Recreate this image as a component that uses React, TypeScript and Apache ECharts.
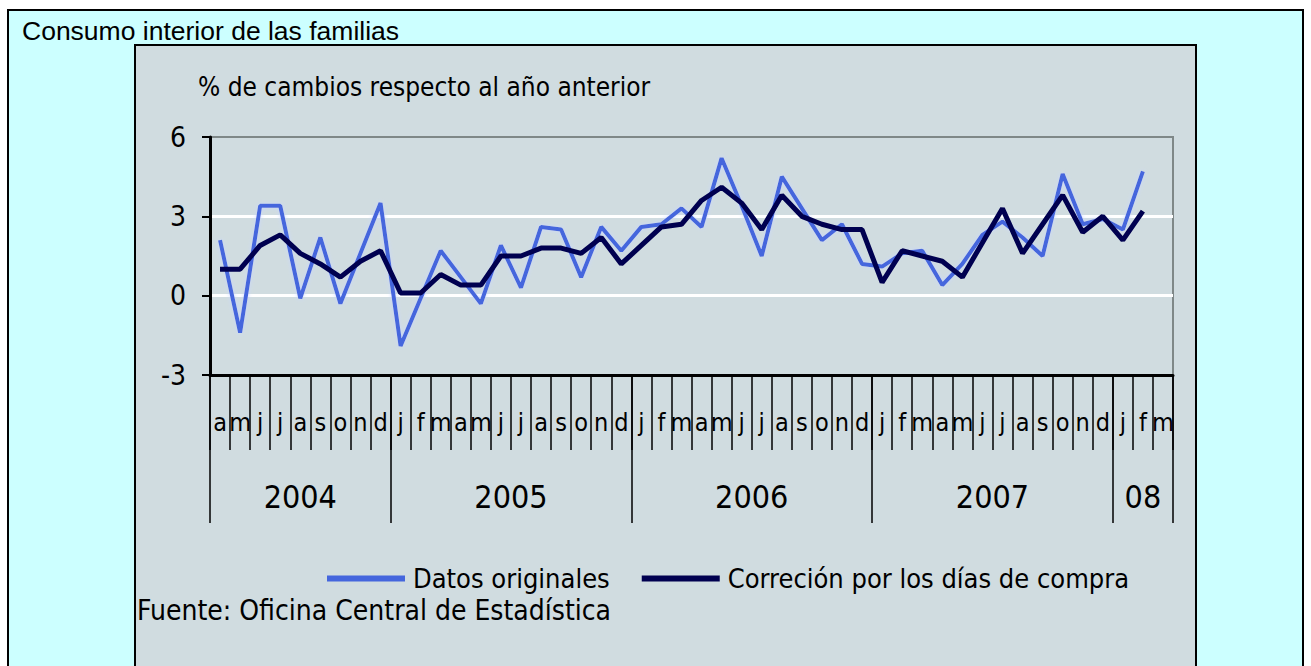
import React, { useEffect, useRef } from 'react';
import * as echarts from 'echarts';

// ---- data ----
const monthLabels = [
  'a', 'm', 'j', 'j', 'a', 's', 'o', 'n', 'd',
  'j', 'f', 'm', 'a', 'm', 'j', 'j', 'a', 's', 'o', 'n', 'd',
  'j', 'f', 'm', 'a', 'm', 'j', 'j', 'a', 's', 'o', 'n', 'd',
  'j', 'f', 'm', 'a', 'm', 'j', 'j', 'a', 's', 'o', 'n', 'd',
  'j', 'f', 'm',
];
const yearLabels = ['2004', '2005', '2006', '2007', '08'];
const monthsPerYear = [9, 12, 12, 12, 3];

const datosOriginales = [
  2.1, -1.4, 3.4, 3.4, -0.1, 2.2, -0.3, 1.6, 3.5,
  -1.9, -0.1, 1.7, 0.7, -0.3, 1.9, 0.3, 2.6, 2.5, 0.7, 2.6, 1.7,
  2.6, 2.7, 3.3, 2.6, 5.2, 3.4, 1.5, 4.5, 3.3, 2.1, 2.7, 1.2,
  1.1, 1.6, 1.7, 0.4, 1.2, 2.3, 2.8, 2.2, 1.5, 4.6, 2.7, 2.9,
  2.5, 4.7,
];
const correccion = [
  1.0, 1.0, 1.9, 2.3, 1.6, 1.2, 0.7, 1.3, 1.7,
  0.1, 0.1, 0.8, 0.4, 0.4, 1.5, 1.5, 1.8, 1.8, 1.6, 2.2, 1.2,
  1.9, 2.6, 2.7, 3.6, 4.1, 3.5, 2.5, 3.8, 3.0, 2.7, 2.5, 2.5,
  0.5, 1.7, 1.5, 1.3, 0.7, 2.0, 3.3, 1.6, 2.7, 3.8, 2.4, 3.0,
  2.1, 3.2,
];
const seriesNames = ['Datos originales', 'Correción por los días de compra'];
const yMin = -3;
const yMax = 6;
const yStep = 3;

const NARROW = "'DejaVu Sans Condensed', 'Liberation Sans Narrow', 'Arial Narrow', sans-serif";

export default function App() {
  const ref = useRef<HTMLDivElement>(null);

  useEffect(() => {
    if (!ref.current) return;
    const chart = echarts.init(ref.current, undefined, { renderer: 'svg' });

    const yearBounds: number[] = [0];
    monthsPerYear.forEach((n) => yearBounds.push(yearBounds[yearBounds.length - 1] + n));
    const yearCenters = yearLabels.map((_, i) => (yearBounds[i] + yearBounds[i + 1]) / 2);

    chart.setOption({
      animation: false,
      graphic: [
        {
          type: 'rect', z: -10, silent: true,
          shape: { x: 8, y: 10, width: 1295, height: 700 },
          style: { fill: '#CCFFFF', stroke: '#000', lineWidth: 2 },
        },
        {
          type: 'rect', z: -9, silent: true,
          shape: { x: 135, y: 45, width: 1061, height: 660 },
          style: { fill: '#D0DCE0', stroke: '#000', lineWidth: 2 },
        },
      ],
      title: [
        {
          text: 'Consumo interior de las familias',
          left: 22, top: 17, padding: 0,
          textStyle: { fontFamily: "Arial, 'Liberation Sans', sans-serif", fontSize: 26.5, fontWeight: 'normal', color: '#000' },
        },
        {
          text: '% de cambios respecto al año anterior',
          left: 198, top: 74, padding: 0,
          textStyle: { fontFamily: NARROW, fontSize: 26, fontWeight: 'normal', color: '#000' },
        },
        {
          text: 'Fuente: Oficina Central de Estadística',
          left: 137, top: 596, padding: 0,
          textStyle: { fontFamily: NARROW, fontSize: 28, lineHeight: 28, fontWeight: 'normal', color: '#000' },
        },
      ],
      legend: {
        left: 327, top: 565, padding: 0,
        icon: 'rect', itemWidth: 78, itemHeight: 6, itemGap: 32,
        textStyle: { fontFamily: NARROW, fontSize: 27, lineHeight: 26, color: '#000', padding: [0, 0, 0, 3] },
        data: seriesNames,
      },
      grid: {
        left: 210, right: 138, top: 137, bottom: 291,
        show: true, backgroundColor: '#D0DCE0', borderColor: '#7F8888', borderWidth: 2,
      },
      xAxis: [
        {
          type: 'category', data: monthLabels, position: 'bottom', boundaryGap: true,
          axisLine: { show: true, onZero: false, lineStyle: { color: '#000', width: 3 } },
          axisTick: { show: true, interval: 0, length: 75, lineStyle: { color: '#000', width: 1.5 } },
          axisLabel: { interval: 0, margin: 35, fontFamily: NARROW, fontSize: 25, color: '#000' },
          splitLine: { show: false },
        },
        {
          type: 'value', min: 0, max: monthLabels.length, position: 'bottom',
          axisLine: { show: false, onZero: false },
          splitLine: { show: false },
          axisTick: { show: true, customValues: yearBounds, length: 148, lineStyle: { color: '#000', width: 1.5 } },
          axisLabel: {
            customValues: yearCenters,
            formatter: (v: number) => {
              const idx = yearCenters.indexOf(v);
              return idx >= 0 ? yearLabels[idx] : '';
            },
            margin: 106, fontFamily: NARROW, fontSize: 32, color: '#000',
          },
        },
      ],
      yAxis: {
        type: 'value', min: yMin, max: yMax, interval: yStep,
        axisLine: { show: true, lineStyle: { color: '#000', width: 3 } },
        axisTick: { show: true, length: 8, lineStyle: { color: '#000', width: 2 } },
        axisLabel: { margin: 24, fontFamily: NARROW, fontSize: 28, color: '#000' },
        splitLine: { show: true, lineStyle: { color: ['rgba(0,0,0,0)', '#ffffff', '#ffffff', 'rgba(0,0,0,0)'], width: 3 } },
      },
      series: [
        {
          name: seriesNames[0], type: 'line', data: datosOriginales, xAxisIndex: 0, yAxisIndex: 0,
          symbol: 'none', z: 2,
          itemStyle: { color: '#4466DD' },
          lineStyle: { color: '#4466DD', width: 4, shadowColor: 'rgba(200,215,255,0.9)', shadowBlur: 4 },
        },
        {
          name: seriesNames[1], type: 'line', data: correccion, xAxisIndex: 0, yAxisIndex: 0,
          symbol: 'none', z: 3,
          itemStyle: { color: '#000050' },
          lineStyle: { color: '#000050', width: 5 },
        },
      ],
    });

    return () => chart.dispose();
  }, []);

  return (
    <div
      ref={ref}
      style={{ position: 'absolute', left: 0, top: 0, width: 1311, height: 666 }}
    />
  );
}
